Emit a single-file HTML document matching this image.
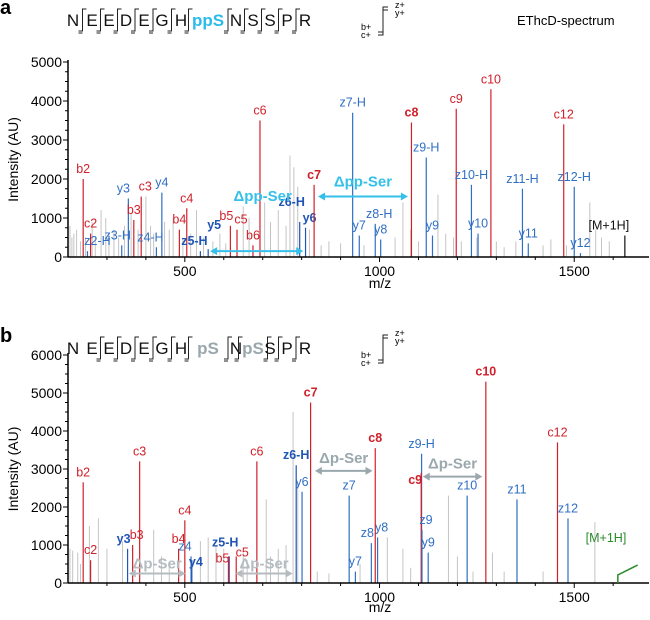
<!DOCTYPE html>
<html><head><meta charset="utf-8"><style>
body{margin:0;background:#fff;overflow:hidden;}
svg{display:block;font-family:"Liberation Sans",Arial,sans-serif;}
</style></head><body>
<svg id="chart" width="650" height="620" viewBox="0 0 650 620"></svg>
<script>
// ---------- DATA ----------
const seqA = ["N","E","E","D","E","G","H","ppS","N","S","S","P","R"];
const seqB = ["N","E","E","D","E","G","H","pS","N","pS","S","P","R"];
const yTicksA = [0,1000,2000,3000,4000,5000];
const yTicksB = [0,1000,2000,3000,4000,5000,6000];
const xTicks = [500,1000,1500];
// Panel a annotated peaks
const peakLabelsA = ["b2","c2","z2-H","y3","c3","b3","z3-H","y4","z4-H","c4","b4","y5","z5-H","b5","c5","b6","c6","z6-H","y6","c7","z7-H","y7","z8-H","y8","c8","z9-H","y9","c9","z10-H","y10","c10","z11-H","y11","c12","z12-H","y12","[M+1H]"];
const peakMzA = [239,258,250,355,388,369,338,441,427,505,486,560,540,617,634,675,693,795,810,832,931,948,989,1003,1082,1120,1136,1197,1236,1253,1286,1367,1382,1473,1500,1516,1630];
const peakIntA = [2000,600,150,1500,1550,950,300,1650,250,1250,700,200,150,800,700,300,3500,900,750,1850,3700,550,850,450,3450,2550,550,3800,1850,600,4300,1750,350,3400,1800,100,550];
const peakTypeA = ["r","r","b","b","r","r","b","b","b","r","r","B","B","r","r","r","r","B","B","R","b","b","b","b","R","b","b","r","b","b","r","b","b","r","b","b","k"];
const noiseMzA = [205,210,215,222,232,245,262,270,285,297,305,318,330,345,362,380,400,412,420,448,460,470,495,515,530,548,572,590,605,650,665,705,720,740,760,770,780,790,820,850,870,900,960,1040,1060,1080,1100,1150,1170,1190,1210,1250,1300,1320,1350,1420,1440,1480,1540,1555,1570,1590];
const noiseIntA = [800,500,600,700,400,500,900,500,1200,1000,600,700,500,800,1100,700,1550,800,600,900,700,1000,500,600,1200,500,400,600,350,1300,1000,1400,900,1200,800,2600,2300,1800,700,300,400,350,300,500,1400,700,400,1600,600,500,400,500,400,250,400,300,450,300,1400,700,500,400];
// Panel b
const peakLabelsB = ["b2","c2","y3","c3","b3","c4","b4","z4","y4","z5-H","b5","c5","c6","z6-H","y6","c7","z7","y7","z8","y8","c8","z9-H","c9","z9","y9","z10","c10","z11","c12","z12"];
const peakMzB = [239,258,353,384,366,500,484,516,518,614,612,632,685,786,801,823,922,938,979,995,989,1108,1107,1109,1125,1225,1273,1353,1457,1484];
const peakIntB = [2650,600,900,3200,1000,1650,900,700,600,700,700,700,3200,3100,2400,4750,2300,300,1050,1200,3550,3400,2900,1400,800,2300,5300,2200,3700,1700];
const peakTypeB = ["r","r","B","r","r","r","r","b","B","B","r","r","r","B","b","R","b","b","b","b","R","b","R","b","b","b","R","b","r","b"];
const noiseMzB = [205,212,225,232,255,278,300,340,420,440,460,540,560,580,600,650,660,709,720,740,760,778,790,840,870,950,1020,1060,1080,1177,1200,1240,1290,1320,1420,1553];
const noiseIntB = [900,850,800,500,1500,1700,900,1100,1400,700,500,1100,1200,1000,900,800,600,2200,700,900,1000,4500,2600,300,250,500,1200,900,400,2300,700,300,800,300,300,1600];
// label nudges (styling, px)
const nudgeA = {"z2-H":[10,0],"z3-H":[-4,0],"y3":[-5,0],"c3":[4,0],"z4-H":[-6,0],"y5":[6,-14],"z5-H":[-6,0],"b5":[-4,0],"c5":[4,0],"z6-H":[-8,-10],"y6":[4,0],"z8-H":[4,0],"[M+1H]":[-16,0]};
const nudgeB = {"y3":[-4,0],"b3":[4,0],"z4":[-6,0],"y4":[4,12],"z5-H":[-4,-4],"b5":[-6,12],"c5":[6,6],"z8":[-4,0],"y8":[4,0],"c9":[-6,17],"z9":[4,0]};
// ---------- DRAW ----------
const NS="http://www.w3.org/2000/svg";
const svg=document.getElementById('chart');
function mk(tag,attrs,parent){const e=document.createElementNS(NS,tag);for(const k in attrs)e.setAttribute(k,attrs[k]);(parent||svg).appendChild(e);return e;}
const X0=68,X1=649,MZ0=200,MZ1=1692;
function xs(mz){return X0+(mz-MZ0)*(X1-X0)/(MZ1-MZ0);}
const COL={r:"#d0202a",R:"#d0202a",b:"#2f6fc4",B:"#1f55b4",k:"#111"};
function panel(p){
  const g=mk('g',{});
  
  
  const ys=v=>p.base-v*p.k;
  p.nMz.forEach((m,i)=>{const l=mk('line',{x1:xs(m),x2:xs(m),y1:p.base,y2:ys(p.nInt[i]),stroke:"#c4c4c4","stroke-width":1},g);
    
    });
  p.mz.forEach((m,i)=>{const t=p.type[i];const c=COL[t];const nd=p.nudge[p.labels[i]]||[0,0];
    const l=mk('line',{x1:xs(m),x2:xs(m),y1:p.base,y2:ys(p.int[i]),stroke:c,"stroke-width":1.2},g);
    
    
    const tx=mk('text',{x:xs(m)+nd[0],y:ys(p.int[i])-6+nd[1],"text-anchor":"middle","font-size":12.5,fill:c,"font-weight":(t==="R"||t==="B")?"bold":"normal"},g);
    tx.textContent=p.labels[i];
    
    });
  mk('line',{x1:X0,x2:X0,y1:p.base,y2:p.top-2,stroke:"#000","stroke-width":1.5},g);
  mk('line',{x1:X0,x2:X1,y1:p.base,y2:p.base,stroke:"#000","stroke-width":1.5},g);
  const step=p.yt[1]-p.yt[0];
  for(let v=0;v<=p.yt[p.yt.length-1];v+=step/4){mk('line',{x1:X0-(v%step===0?5:3),x2:X0,y1:ys(v),y2:ys(v),stroke:"#000"},g);}
  p.yt.forEach(v=>{const t=mk('text',{x:X0-6,y:ys(v)+5,"text-anchor":"end","font-size":14},g);t.textContent=v;
    
    });
  for(let m=300;m<=1600;m+=100){mk('line',{x1:xs(m),x2:xs(m),y1:p.base,y2:p.base+(m%500===0?5:3),stroke:"#000"},g);}
  xTicks.forEach(v=>{const t=mk('text',{x:xs(v),y:p.base+19,"text-anchor":"middle","font-size":14},g);t.textContent=v;
    
    });
  const yl=mk('text',{x:0,y:0,transform:`translate(18,${(p.base+p.top)/2}) rotate(-90)`,"text-anchor":"middle","font-size":14},g);
  yl.textContent="Intensity (AU)";
  
  
  const xl=mk('text',{x:380,y:p.base+p.xlo,"text-anchor":"middle","font-size":14},g);
  xl.textContent="m/z";
  
  
  p.arrows.forEach(a=>{const y=ys(a[2]);
    mk('line',{x1:xs(a[0])+4,x2:xs(a[1])-4,y1:y,y2:y,stroke:a[4],"stroke-width":2},g);
    mk('path',{d:`M${xs(a[0])},${y}l7,-4v8z M${xs(a[1])},${y}l-7,-4v8z`,fill:a[4]},g);
    if(a[3]){const t=mk('text',{x:(xs(a[0])+xs(a[1]))/2,y:y-a[5],"text-anchor":"middle","font-size":15,"font-weight":"bold",fill:a[4]},g);
    t.textContent=a[3];
    
    }});
  const sx=[73,92,109,126,144,162,181,208,236,253,270,287,305];
  p.seq.forEach((s,i)=>{const special=s.startsWith("p");
    const t=mk('text',{x:sx[i],y:p.sy+6,"text-anchor":"middle","font-size":17,fill:special?p.scol:"#111","font-weight":special?"bold":"normal"},g);
    t.textContent=s;
    
    
    if(i<p.seq.length-1 && !(p.skip||[]).includes(i)){const bx=(sx[i]+sx[i+1])/2+(special?6:(p.seq[i+1].startsWith("p")?-6:0));
      mk('path',{d:`M${bx+4},${p.sy-11}h-4v22h-4 M${bx-4},${p.sy+13}h4`,stroke:"#222",fill:"none","stroke-width":1},g);}
  });
  const lx=383,ly=p.sy-13;
  mk('path',{d:`M${lx+5},${ly}h-5v28h-5 M${lx+5},${ly+3}h-5 M${lx-5},${ly+25}h5`,stroke:"#222",fill:"none"},g);
  [["z+",lx+12,ly+1],["y+",lx+12,ly+9],["b+",lx-22,ly+23],["c+",lx-22,ly+31]].forEach(a=>{const t=mk('text',{x:a[1],y:a[2],"font-size":9},g);t.textContent=a[0];
    
    });
  const pl=mk('text',{x:0,y:p.sy-6,"font-size":20,"font-weight":"bold"},g);pl.textContent=p.letter;
  
  
  return g;
}
panel({name:'panel-a',letter:'a',base:257,top:62,k:39/1000,xlo:31,yt:yTicksA,mz:peakMzA,int:peakIntA,type:peakTypeA,labels:peakLabelsA,nMz:noiseMzA,nInt:noiseIntA,seq:seqA,sy:20,scol:"#2bbbe8",nudge:nudgeA,
  arrows:[[565,804,150,"",'#35c0ea',0],[842,1073,1550,"Δpp-Ser",'#35c0ea',10]]});
panel({name:'panel-b',letter:'b',base:583,top:355,k:38/1000,xlo:29,yt:yTicksB,mz:peakMzB,int:peakIntB,type:peakTypeB,labels:peakLabelsB,nMz:noiseMzB,nInt:noiseIntB,seq:seqB,sy:348,scol:"#9aa8ae",skip:[0,12],nudge:nudgeB,
  arrows:[[834,982,2950,"Δp-Ser",'#9aa8ae',8],[1111,1264,2800,"Δp-Ser",'#9aa8ae',8],[356,502,250,"Δp-Ser",'#b4bcc0',5],[630,777,250,"Δp-Ser",'#b4bcc0',5]]});
const la=mk('text',{x:(xs(565)+xs(804))/2+6,y:201,"text-anchor":"middle","font-size":15,"font-weight":"bold",fill:"#35c0ea"});la.textContent="Δpp-Ser";


const et=mk('text',{x:517,y:25,"font-size":13});et.textContent="EThcD-spectrum";


const gl=mk('path',{d:`M${xs(1612)},583v-8l${xs(1663)-xs(1612)},-10`,stroke:"#2a8a2a",fill:"none","stroke-width":1.5});


const gt=mk('text',{x:606,y:542,"text-anchor":"middle","font-size":12.5,fill:"#2a8a2a"});gt.textContent="[M+1H]";


</script>
</body></html>
